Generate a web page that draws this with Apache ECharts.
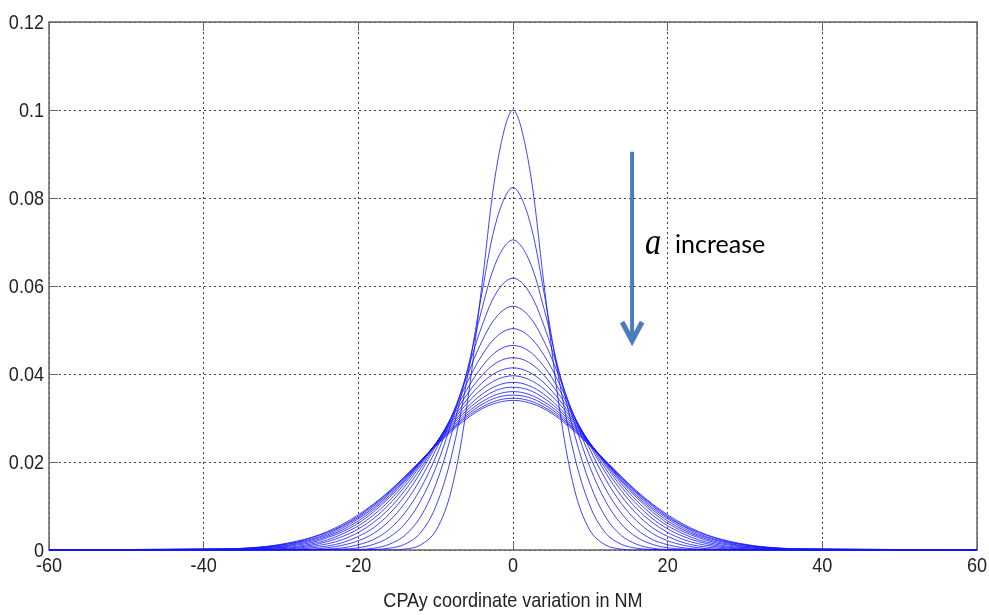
<!DOCTYPE html>
<html>
<head>
<meta charset="utf-8">
<script src="https://cdn.jsdelivr.net/npm/echarts@6/dist/echarts.min.js"></script>
<style>
  html, body { margin: 0; padding: 0; background: #fff; }
  #chart { width: 989px; height: 615px; }
</style>
</head>
<body>
<div id="chart"></div>
<script>
// Sample positions along the CPAy axis (NM)
const xs = [-60, -36, -34, -32, -30, -28, -26, -24, -22, -20, -18, -16, -14, -12, -10, -8, -6, -4, -2,
            0, 2, 4, 6, 8, 10, 12, 14, 16, 18, 20, 22, 24, 26, 28, 30, 32, 34, 36, 60];

// Density profiles, one per value of a (narrowest first)
const c01 = [0,0,0,0,0,0,0,0,0,0,0,0,0.0002,0.0011,0.0043,0.0134,0.0323,0.0605,0.0882,0.1,0.0882,0.0605,0.0323,0.0134,0.0043,0.0011,0.0002,0,0,0,0,0,0,0,0,0,0,0,0];
const c02 = [0,0,0,0,0,0,0,0,0,0,0.0001,0.0004,0.0013,0.0038,0.0098,0.0210,0.0382,0.0586,0.0757,0.0824,0.0757,0.0586,0.0382,0.0210,0.0098,0.0038,0.0013,0.0004,0.0001,0,0,0,0,0,0,0,0,0,0];
const c03 = [0,0,0,0,0,0,0,0,0,0.0001,0.0004,0.0013,0.0033,0.0074,0.0148,0.0260,0.0402,0.0549,0.0662,0.0705,0.0662,0.0549,0.0402,0.0260,0.0148,0.0074,0.0033,0.0013,0.0004,0.0001,0,0,0,0,0,0,0,0,0];
const c04 = [0,0,0,0,0,0,0,0.0001,0.0002,0.0005,0.0013,0.0029,0.0059,0.0110,0.0186,0.0287,0.0401,0.0510,0.0589,0.0618,0.0589,0.0510,0.0401,0.0287,0.0186,0.0110,0.0059,0.0029,0.0013,0.0005,0.0002,0.0001,0,0,0,0,0,0,0];
const c05 = [0,0,0,0,0,0,0.0001,0.0002,0.0005,0.0012,0.0024,0.0047,0.0084,0.0138,0.0211,0.0299,0.0392,0.0475,0.0533,0.0554,0.0533,0.0475,0.0392,0.0299,0.0211,0.0138,0.0084,0.0047,0.0024,0.0012,0.0005,0.0002,0.0001,0,0,0,0,0,0];
const c06 = [0,0,0,0,0,0.0001,0.0002,0.0005,0.0011,0.0021,0.0038,0.0066,0.0106,0.0160,0.0227,0.0302,0.0378,0.0443,0.0487,0.0503,0.0487,0.0443,0.0378,0.0302,0.0227,0.0160,0.0106,0.0066,0.0038,0.0021,0.0011,0.0005,0.0002,0.0001,0,0,0,0,0];
const c07 = [0,0,0,0,0.0001,0.0002,0.0005,0.0009,0.0017,0.0031,0.0051,0.0082,0.0123,0.0175,0.0236,0.0301,0.0364,0.0417,0.0453,0.0465,0.0453,0.0417,0.0364,0.0301,0.0236,0.0175,0.0123,0.0082,0.0051,0.0031,0.0017,0.0009,0.0005,0.0002,0.0001,0,0,0,0];
const c08 = [0,0,0,0.0001,0.0002,0.0004,0.0008,0.0014,0.0024,0.0040,0.0063,0.0094,0.0135,0.0184,0.0240,0.0298,0.0352,0.0397,0.0427,0.0437,0.0427,0.0397,0.0352,0.0298,0.0240,0.0184,0.0135,0.0094,0.0063,0.0040,0.0024,0.0014,0.0008,0.0004,0.0002,0.0001,0,0,0];
const c09 = [0,0,0.0001,0.0002,0.0003,0.0006,0.0011,0.0019,0.0031,0.0048,0.0072,0.0104,0.0144,0.0191,0.0242,0.0293,0.0341,0.0380,0.0405,0.0414,0.0405,0.0380,0.0341,0.0293,0.0242,0.0191,0.0144,0.0104,0.0072,0.0048,0.0031,0.0019,0.0011,0.0006,0.0003,0.0002,0.0001,0,0];
const c10 = [0,0.0001,0.0001,0.0003,0.0005,0.0008,0.0014,0.0023,0.0037,0.0055,0.0080,0.0112,0.0151,0.0195,0.0242,0.0289,0.0332,0.0366,0.0388,0.0396,0.0388,0.0366,0.0332,0.0289,0.0242,0.0195,0.0151,0.0112,0.0080,0.0055,0.0037,0.0023,0.0014,0.0008,0.0005,0.0003,0.0001,0.0001,0];
const c11 = [0,0.0001,0.0002,0.0004,0.0006,0.0011,0.0017,0.0028,0.0042,0.0061,0.0087,0.0119,0.0156,0.0198,0.0241,0.0285,0.0323,0.0354,0.0374,0.0381,0.0374,0.0354,0.0323,0.0285,0.0241,0.0198,0.0156,0.0119,0.0087,0.0061,0.0042,0.0028,0.0017,0.0011,0.0006,0.0004,0.0002,0.0001,0];
const c12 = [0,0.0001,0.0003,0.0005,0.0008,0.0013,0.0020,0.0031,0.0046,0.0066,0.0092,0.0123,0.0159,0.0199,0.0241,0.0281,0.0317,0.0345,0.0364,0.0370,0.0364,0.0345,0.0317,0.0281,0.0241,0.0199,0.0159,0.0123,0.0092,0.0066,0.0046,0.0031,0.0020,0.0013,0.0008,0.0005,0.0003,0.0001,0];
const c13 = [0,0.0002,0.0003,0.0006,0.0009,0.0015,0.0023,0.0034,0.0050,0.0071,0.0096,0.0127,0.0162,0.0200,0.0240,0.0277,0.0311,0.0337,0.0354,0.0360,0.0354,0.0337,0.0311,0.0277,0.0240,0.0200,0.0162,0.0127,0.0096,0.0071,0.0050,0.0034,0.0023,0.0015,0.0009,0.0006,0.0003,0.0002,0];
const c14 = [0,0.0002,0.0004,0.0007,0.0011,0.0017,0.0025,0.0037,0.0054,0.0074,0.0100,0.0130,0.0164,0.0201,0.0239,0.0274,0.0306,0.0331,0.0347,0.0352,0.0347,0.0331,0.0306,0.0274,0.0239,0.0201,0.0164,0.0130,0.0100,0.0074,0.0054,0.0037,0.0025,0.0017,0.0011,0.0007,0.0004,0.0002,0];
const c15 = [0,0.0003,0.0005,0.0007,0.0012,0.0018,0.0028,0.0040,0.0056,0.0077,0.0103,0.0132,0.0166,0.0201,0.0237,0.0272,0.0302,0.0325,0.0340,0.0345,0.0340,0.0325,0.0302,0.0272,0.0237,0.0201,0.0166,0.0132,0.0103,0.0077,0.0056,0.0040,0.0028,0.0018,0.0012,0.0007,0.0005,0.0003,0];
const c16 = [0,0.0003,0.0005,0.0008,0.0013,0.0020,0.0029,0.0042,0.0059,0.0080,0.0105,0.0134,0.0167,0.0202,0.0236,0.0269,0.0298,0.0321,0.0335,0.0340,0.0335,0.0321,0.0298,0.0269,0.0236,0.0202,0.0167,0.0134,0.0105,0.0080,0.0059,0.0042,0.0029,0.0020,0.0013,0.0008,0.0005,0.0003,0];

const profiles = [c01, c02, c03, c04, c05, c06, c07, c08, c09, c10, c11, c12, c13, c14, c15, c16];

// Axis ranges and labels
const xTicks = [-60, -40, -20, 0, 20, 40, 60];
const yTicks = [0, 0.02, 0.04, 0.06, 0.08, 0.1, 0.12];
const xTickLabels = ['-60', '-40', '-20', '0', '20', '40', '60'];
const yTickLabels = ['0', '0.02', '0.04', '0.06', '0.08', '0.1', '0.12'];
const xTitle = 'CPAy coordinate variation in NM';
const noteVar = 'a';
const noteText = 'increase';
// arrow annotation, in data units: [x, yTop, yTip]
const arrowAt = [15.4, 0.0905, 0.0475];

const labelFont = "'Liberation Sans', Arial, sans-serif";
const labelSize = 21;
const labelSqueeze = 0.86;   // condensed look of the axis lettering
const gridColor = '#444';
const frameColor = '#666';

const chart = echarts.init(document.getElementById('chart'), null, { renderer: 'canvas' });

const series = profiles.map((p, i) => ({
  name: 'a' + (i + 1),
  type: 'line',
  data: xs.map((x, k) => [x, p[k]]),
  smooth: 0.35,
  showSymbol: false,
  symbol: 'none',
  silent: true,
  animation: false,
  lineStyle: { color: 'rgba(20,20,255,0.8)', width: 1 }
}));

const tickStyle = { show: true, inside: true, length: 9, lineStyle: { color: frameColor, width: 1 } };

chart.setOption({
  animation: false,
  backgroundColor: '#fff',
  grid: { left: 49, right: 12, top: 22, bottom: 65, containLabel: false },
  xAxis: [
    {
      type: 'value', min: xTicks[0], max: xTicks[xTicks.length - 1], interval: 20,
      position: 'bottom',
      axisLine: { show: true, onZero: false, lineStyle: { color: frameColor, width: 1.5 } },
      axisTick: tickStyle,
      axisLabel: { show: false },
      splitLine: { show: true, lineStyle: { color: gridColor, width: 1, type: [2, 3] } }
    },
    {
      type: 'value', min: xTicks[0], max: xTicks[xTicks.length - 1], interval: 20,
      position: 'top',
      axisLine: { show: true, onZero: false, lineStyle: { color: frameColor, width: 1.5 } },
      axisTick: tickStyle,
      axisLabel: { show: false },
      splitLine: { show: false }
    }
  ],
  yAxis: [
    {
      type: 'value', min: yTicks[0], max: yTicks[yTicks.length - 1], interval: 0.02,
      position: 'left',
      axisLine: { show: true, onZero: false, lineStyle: { color: frameColor, width: 1.5 } },
      axisTick: tickStyle,
      axisLabel: { show: false },
      splitLine: { show: true, lineStyle: { color: gridColor, width: 1, type: [2, 3] } }
    },
    {
      type: 'value', min: yTicks[0], max: yTicks[yTicks.length - 1], interval: 0.02,
      position: 'right',
      axisLine: { show: true, onZero: false, lineStyle: { color: frameColor, width: 1.5 } },
      axisTick: tickStyle,
      axisLabel: { show: false },
      splitLine: { show: false }
    }
  ],
  series: series
});

// Condensed axis lettering, placed through the axis scales
const toPx = (x, y) => chart.convertToPixel({ gridIndex: 0 }, [x, y]);
const labelText = (text, px, py, align, vAlign) => ({
  type: 'text', silent: true, x: px, y: py, scaleX: labelSqueeze,
  style: { text: text, fontFamily: labelFont, fontSize: labelSize, fill: '#222', align: align, verticalAlign: vAlign }
});

const graphics = [];
yTicks.forEach((v, i) => {
  const p = toPx(xTicks[0], v);
  graphics.push(labelText(yTickLabels[i], p[0] - 5, p[1] + 1, 'right', 'middle'));
});
xTicks.forEach((v, i) => {
  const p = toPx(v, yTicks[0]);
  graphics.push(labelText(xTickLabels[i], p[0], p[1] + 16, 'center', 'middle'));
});
const axisMid = toPx(0, yTicks[0]);
graphics.push(labelText(xTitle, axisMid[0], axisMid[1] + 51, 'center', 'middle'));

// Arrow with the "a increase" note
const arrowTop = toPx(arrowAt[0], arrowAt[1]);
const arrowTip = toPx(arrowAt[0], arrowAt[2]);
const arrowColor = '#4a7dbb';
const noteY = (arrowTop[1] + arrowTip[1]) / 2 - 2;

graphics.push(
  {
    type: 'line', silent: true,
    shape: { x1: arrowTop[0], y1: arrowTop[1], x2: arrowTip[0], y2: arrowTip[1] - 2 },
    style: { stroke: arrowColor, lineWidth: 4 }
  },
  {
    type: 'polyline', silent: true,
    shape: { points: [[arrowTip[0] - 10, arrowTip[1] - 19], [arrowTip[0], arrowTip[1]], [arrowTip[0] + 10, arrowTip[1] - 19]] },
    style: { stroke: arrowColor, lineWidth: 5, fill: null, lineJoin: 'miter', lineCap: 'butt' }
  },
  {
    type: 'text', silent: true,
    x: arrowTop[0] + 13, y: noteY, scaleX: 0.85,
    style: {
      text: noteVar, fontFamily: "'Liberation Serif', 'DejaVu Serif', serif",
      fontStyle: 'italic', fontSize: 38, fill: '#000', verticalAlign: 'middle', align: 'left'
    }
  },
  {
    type: 'text', silent: true,
    x: arrowTop[0] + 43, y: noteY + 1,
    style: {
      text: noteText, fontFamily: "Lato, 'Open Sans', sans-serif",
      fontSize: 25, fill: '#000', verticalAlign: 'middle', align: 'left'
    }
  }
);

chart.setOption({ graphic: graphics });
</script>
</body>
</html>
